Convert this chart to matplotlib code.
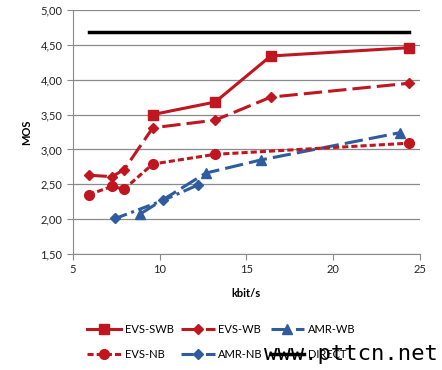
import matplotlib.pyplot as plt
from matplotlib.ticker import FuncFormatter

plt.rcParams['font.family'] = ['Lato', 'DejaVu Sans']

# data
swb_x = [9.6, 13.2, 16.4, 24.4]
swb_y = [3.50, 3.68, 4.34, 4.46]

wb_x = [5.9, 7.25, 7.95, 9.6, 13.2, 16.4, 24.4]
wb_y = [2.63, 2.61, 2.71, 3.31, 3.42, 3.75, 3.95]

nb_x = [5.9, 7.25, 7.95, 9.6, 13.2, 24.4]
nb_y = [2.35, 2.47, 2.43, 2.79, 2.93, 3.09]

amrwb_x = [8.85, 12.65, 15.85, 23.85]
amrwb_y = [2.07, 2.66, 2.85, 3.24]

amrnb_x = [7.45, 10.2, 12.2]
amrnb_y = [2.01, 2.27, 2.49]

direct_x = [5.95, 24.4]
direct_y = [4.69, 4.69]

red = '#C0161F'
blue = '#2E5C9E'

fig = plt.figure(figsize=(4.42, 3.70), dpi=100)
ax = fig.add_axes([0.165, 0.3135, 0.785, 0.6595])

h1, = ax.plot(swb_x, swb_y, color=red, lw=2.2, marker='s', ms=7, label='EVS-SWB')
h2, = ax.plot(wb_x, wb_y, color=red, lw=2.2, ls=(0, (6, 2)), marker='D', ms=5.5, label='EVS-WB')
h3, = ax.plot(amrwb_x, amrwb_y, color=blue, lw=2.2, ls=(0, (6, 2)), marker='^', ms=7, label='AMR-WB')
h4, = ax.plot(nb_x, nb_y, color=red, lw=2.2, ls=(0, (2, 1)), marker='o', ms=7, label='EVS-NB')
h5, = ax.plot(amrnb_x, amrnb_y, color=blue, lw=2.2, ls=(0, (4, 1.5, 1, 1.5)), marker='D', ms=5, label='AMR-NB')
h6, = ax.plot(direct_x, direct_y, color='black', lw=2.5, label='DIRECT')

ax.set_xlim(5, 25)
ax.set_ylim(1.5, 5.0)
ax.set_xticks([5, 10, 15, 20, 25])
ax.set_yticks([1.5, 2.0, 2.5, 3.0, 3.5, 4.0, 4.5, 5.0])
ax.yaxis.set_major_formatter(FuncFormatter(lambda v, p: f'{v:.2f}'.replace('.', ',')))
ax.grid(axis='y', color='#8a8a8a', lw=0.9)
ax.set_axisbelow(True)
for s in ['top', 'right']:
    ax.spines[s].set_visible(False)
for s in ['left', 'bottom']:
    ax.spines[s].set_color('#8a8a8a')
ax.tick_params(colors='#8a8a8a', labelcolor='#222222', labelsize=8, length=4)
ax.set_xlabel('kbit/s', fontsize=8, fontweight='bold', labelpad=9)
ax.set_ylabel('MOS', fontsize=8, fontweight='bold', labelpad=6)

handles = [h1, h4, h2, h5, h3, h6]
fig.legend(handles, [h.get_label() for h in handles], ncol=3, loc='lower left',
           bbox_to_anchor=(0.175, 0.0), frameon=False, fontsize=8,
           handlelength=3.0, columnspacing=0.7, handletextpad=0.35, labelspacing=1.3)

fig.text(0.99, 0.015, 'www.pttcn.net', ha='right', va='bottom', fontsize=16,
         family='DejaVu Sans Mono', color='black')

fig.savefig('out.png', dpi=100)
